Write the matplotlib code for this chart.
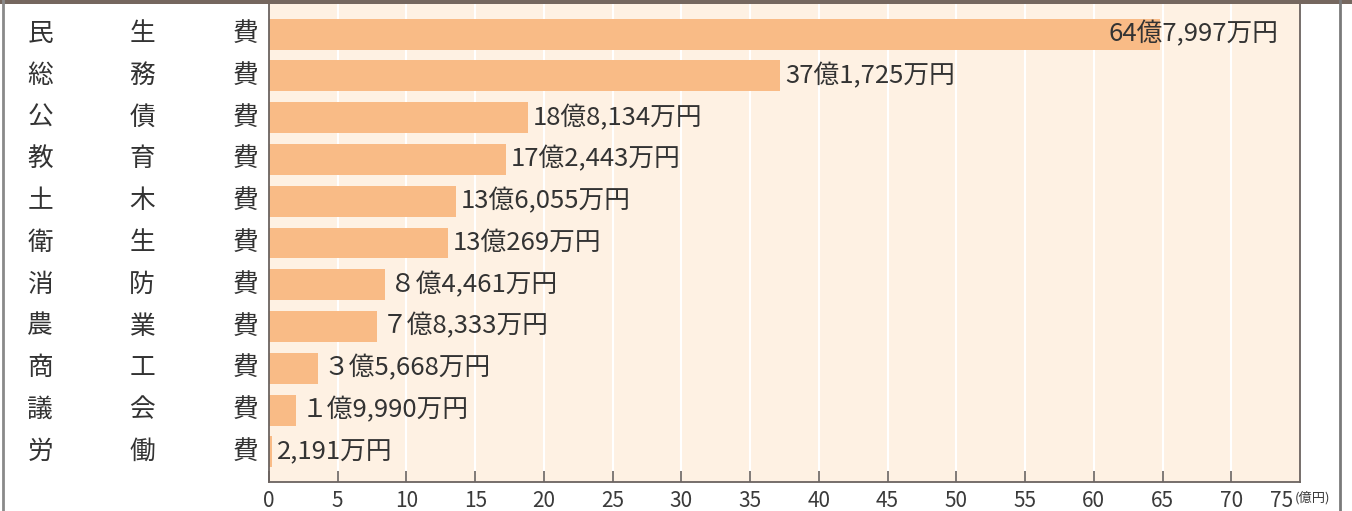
import matplotlib.pyplot as plt
from matplotlib.patches import Rectangle
from matplotlib.lines import Line2D
import matplotlib.transforms as mtransforms

plt.rcParams['font.family'] = ['Noto Sans CJK JP', 'DejaVu Sans']

categories = ["民生費", "総務費", "公債費", "教育費", "土木費", "衛生費",
              "消防費", "農業費", "商工費", "議会費", "労働費"]
# 単位: 万円
values_man = [647997, 371725, 188134, 172443, 136055, 130269,
              84461, 78333, 35668, 19990, 2191]
xticks = list(range(0, 80, 5))

BG = "#fef1e3"
BAR = "#f9bb86"
TXT = "#333333"

values = [v / 10000 for v in values_man]


def fmt(v):
    oku, man = divmod(v, 10000)
    if oku >= 10:
        return f"{oku}億{man:,}万円"
    if oku > 0:
        return chr(0xFF10 + oku) + f"億{man:,}万円"
    return f"{man:,}万円"


fig = plt.figure(figsize=(13.52, 5.11), dpi=100)
ax = fig.add_axes([269 / 1352, 1 - 482 / 511, 1031 / 1352, 478 / 511])
ax.set_facecolor(BG)

y = list(range(len(categories)))
ax.barh(y, values, height=0.74, color=BAR, zorder=2)

ax.set_xlim(0, 75)
ax.set_ylim(len(categories) - 0.28, -0.72)

for x in xticks[1:-1]:
    ax.axvline(x, color="white", lw=1.5, zorder=1)

ax.set_xticks(xticks)
ax.tick_params(axis="x", direction="in", length=8, width=1.2, color="#6b6360",
               labelsize=15, labelcolor="#3a3a3a", pad=6)
ax.set_yticks([])
ax.spines["top"].set_visible(False)
for s in ["left", "bottom", "right"]:
    ax.spines[s].set_color("#6b6360")
    ax.spines[s].set_linewidth(1.3)

# 75 の目盛は枠線と重なるので目盛線は不要
ax.get_xticklines()[-2].set_visible(False)
last = ax.get_xticklabels()[-1]
last.set_ha("right")
last.set_transform(last.get_transform() +
                   mtransforms.ScaledTranslation(-7 / 100, 0, fig.dpi_scale_trans))

ax.text(1026 / 1031, -0.032, "(億円)", transform=ax.transAxes, fontsize=9.5,
        color="#3a3a3a", ha="left", va="center")

tr = mtransforms.blended_transform_factory(ax.transAxes, ax.transData)
for i, cat in enumerate(categories):
    for ch, xa in zip(cat, [-0.222, -0.123, -0.0223]):
        ax.text(xa, i, ch, transform=tr, ha="center", va="center",
                fontsize=18.5, color=TXT)

for i, (v, vm) in enumerate(zip(values, values_man)):
    off = 5 if v < 60 else -51
    ax.annotate(fmt(vm), (v, i), xytext=(off * 0.72, 0), textcoords="offset points",
                ha="left", va="center", fontsize=18.5, color=TXT, zorder=3)

# 外枠
fig.add_artist(Rectangle((0, 1 - 4 / 511), 1, 4 / 511, transform=fig.transFigure,
                         color="#75675f", lw=0))
fig.add_artist(Line2D([3 / 1352] * 2, [0, 1], transform=fig.transFigure,
                      color="#8a8a8a", lw=2))
fig.add_artist(Line2D([1339.5 / 1352] * 2, [0, 1], transform=fig.transFigure,
                      color="#7a7a7a", lw=2))

fig.savefig("out.png", dpi=100, facecolor="white")
